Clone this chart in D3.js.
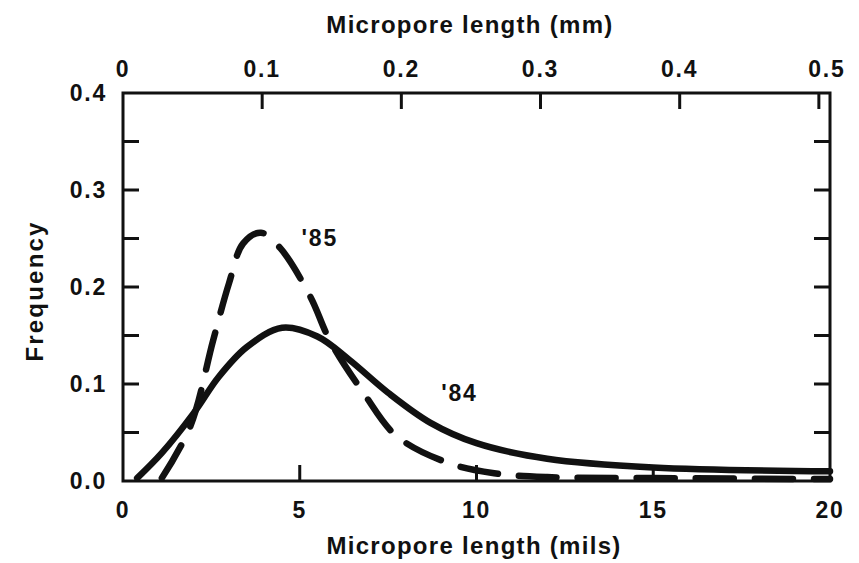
<!DOCTYPE html>
<html>
<head>
<meta charset="utf-8">
<script src="https://cdn.jsdelivr.net/npm/d3@7"></script>
<style>
    body { margin: 0; background: #fff; }
    text { font-family: "Liberation Sans", Arial, sans-serif; font-weight: bold; fill: #111; }
</style>
</head>
<body>
<svg id="chart" width="859" height="563"></svg>
<script>
// '84 curve (solid)
const mils84 = [0.4, 1.1, 2.0, 2.7, 3.5, 4.5, 5.5, 6.4, 7.5, 8.7, 10, 12, 15, 20];
const freq84 = [0.003, 0.029, 0.07, 0.107, 0.138, 0.158, 0.149, 0.125, 0.091, 0.06, 0.039, 0.023, 0.014, 0.01];

// '85 curve (dashed)
const mils85 = [1.1, 1.9, 2.55, 3.0, 3.4, 3.9, 4.45, 5.3, 5.85, 6.8, 7.75, 9.25, 10.5, 12, 15, 20];
const freq85 = [0.003, 0.056, 0.145, 0.204, 0.245, 0.256, 0.24, 0.19, 0.145, 0.091, 0.046, 0.018, 0.008, 0.004, 0.003, 0.002];

const bottomTicks = [0, 5, 10, 15, 20];
const topTicks = [0, 0.1, 0.2, 0.3, 0.4, 0.5];
const yLabelTicks = [0, 0.1, 0.2, 0.3, 0.4];
const yMinorTicks = [0.05, 0.1, 0.15, 0.2, 0.25, 0.3, 0.35];

const svg = d3.select("#chart"),
    margin = { top: 93, right: 29, bottom: 82, left: 123 },
    width = 859,
    height = 563;

const x = d3.scaleLinear().domain([0, 20]).range([margin.left, width - margin.right]);
// 1 mil = 0.0254 mm
const xmm = d3.scaleLinear().domain([0, 20 * 0.0254]).range([margin.left, width - margin.right]);
const y = d3.scaleLinear().domain([0, 0.4]).range([height - margin.bottom, margin.top]);

const tickLen = 16;
const x0 = x.range()[0], x1 = x.range()[1], y0 = y.range()[0], y1 = y.range()[1];

// ticks pointing inward
const ticks = svg.append("g").attr("stroke", "#111").attr("stroke-width", 3);
yMinorTicks.forEach(t => {
    ticks.append("line").attr("x1", x0).attr("x2", x0 + tickLen).attr("y1", y(t)).attr("y2", y(t));
    ticks.append("line").attr("x1", x1).attr("x2", x1 - tickLen).attr("y1", y(t)).attr("y2", y(t));
});
bottomTicks.slice(1, -1).forEach(t => {
    ticks.append("line").attr("x1", x(t)).attr("x2", x(t)).attr("y1", y0).attr("y2", y0 - tickLen);
});
topTicks.slice(1).forEach(t => {
    ticks.append("line").attr("x1", xmm(t)).attr("x2", xmm(t)).attr("y1", y1).attr("y2", y1 + tickLen);
});

// frame
svg.append("rect")
    .attr("x", x0).attr("y", y1)
    .attr("width", x1 - x0).attr("height", y0 - y1)
    .attr("fill", "none").attr("stroke", "#111").attr("stroke-width", 3);

// curves
const line = d3.line()
    .x(d => x(d[0]))
    .y(d => y(d[1]))
    .curve(d3.curveCatmullRom.alpha(0.5));

svg.append("path")
    .attr("d", line(d3.zip(mils84, freq84)))
    .attr("fill", "none")
    .attr("stroke", "#111")
    .attr("stroke-width", 6.5)
    .attr("stroke-linecap", "round");

svg.append("path")
    .attr("d", line(d3.zip(mils85, freq85)))
    .attr("fill", "none")
    .attr("stroke", "#111")
    .attr("stroke-width", 6.5)
    .attr("stroke-linecap", "round")
    .attr("stroke-dasharray", "38,21");

// tick labels
const lab = sel => sel.attr("font-size", 23).attr("letter-spacing", 1.8);

svg.selectAll(".xlab")
    .data(bottomTicks)
    .join("text")
    .attr("x", d => x(d))
    .attr("y", y0 + 37)
    .attr("text-anchor", "middle")
    .call(lab)
    .text(d => d);

svg.selectAll(".toplab")
    .data(topTicks)
    .join("text")
    .attr("x", d => xmm(d) + (d === 0.5 ? 8 : 0))
    .attr("y", y1 - 16)
    .attr("text-anchor", "middle")
    .call(lab)
    .text(d => d === 0 ? "0" : d.toFixed(1));

svg.selectAll(".ylab")
    .data(yLabelTicks)
    .join("text")
    .attr("x", x0 - 16)
    .attr("y", d => y(d) + 8)
    .attr("text-anchor", "end")
    .call(lab)
    .text(d => d.toFixed(1));

// axis titles
const title = sel => sel.attr("font-size", 24).attr("letter-spacing", 1.3).attr("text-anchor", "middle");

svg.append("text")
    .attr("x", 474).attr("y", 554)
    .call(title)
    .text("Micropore length (mils)");

svg.append("text")
    .attr("x", 470).attr("y", 33)
    .call(title)
    .text("Micropore length (mm)");

svg.append("text")
    .attr("transform", `translate(43,${(y0 + y1) / 2 + 4}) rotate(-90)`)
    .call(title)
    .attr("letter-spacing", 2.2)
    .text("Frequency");

// series labels
svg.append("text").attr("x", x(5.05)).attr("y", y(0.242)).call(lab).text("'85");
svg.append("text").attr("x", x(9.0)).attr("y", y(0.082)).call(lab).text("'84");
</script>
</body>
</html>
